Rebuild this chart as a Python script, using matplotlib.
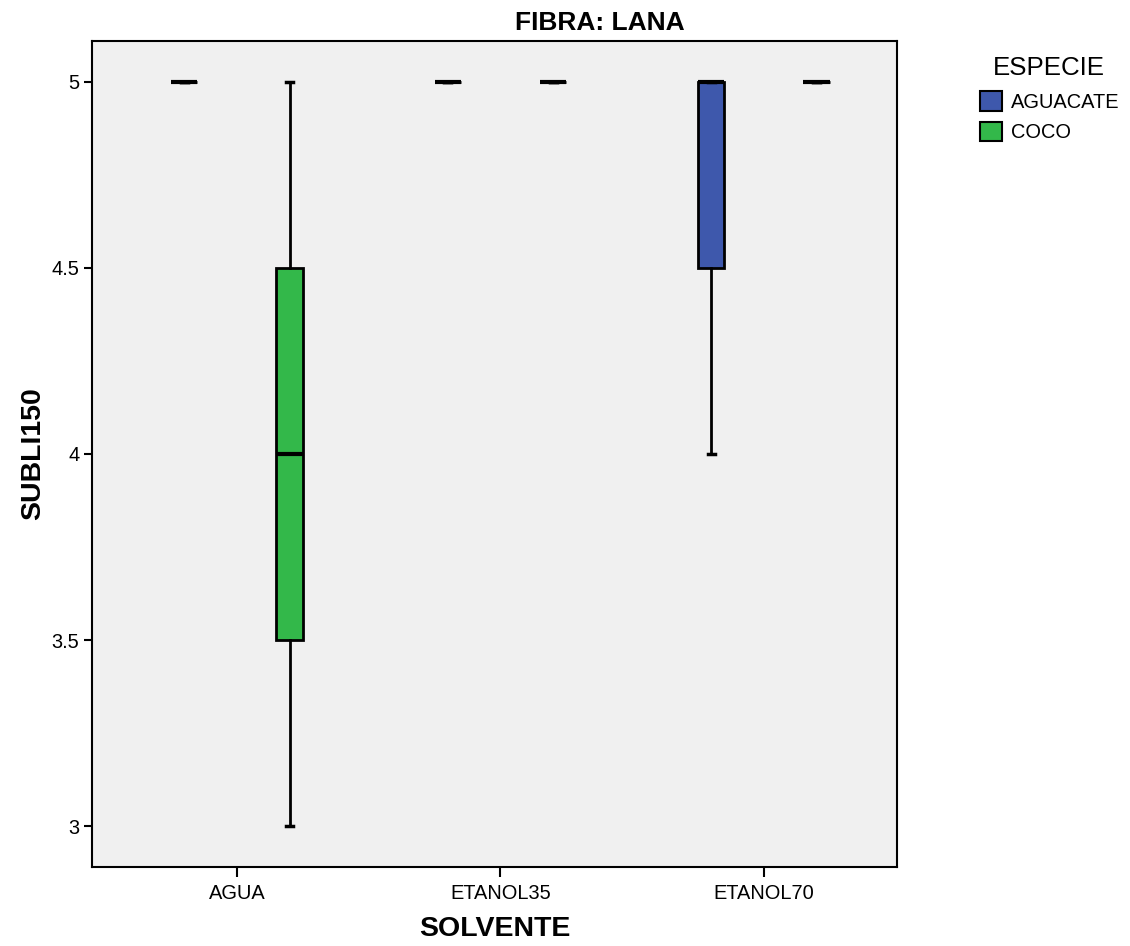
import matplotlib.pyplot as plt
from matplotlib.patches import Patch

plt.rcParams['font.family'] = ['Liberation Sans', 'DejaVu Sans']

solventes = ['AGUA', 'ETANOL35', 'ETANOL70']
especies = ['AGUACATE', 'COCO']
colores = ['#3E58AC', '#33B84A']

# summary stats per (solvente, especie): whislo, q1, med, q3, whishi
aguacate_stats = [
    (5, 5, 5, 5, 5),
    (5, 5, 5, 5, 5),
    (4, 4.5, 5, 5, 5),
]
coco_stats = [
    (3, 3.5, 4, 4.5, 5),
    (5, 5, 5, 5, 5),
    (5, 5, 5, 5, 5),
]

fig = plt.figure(figsize=(11.3, 9.46), dpi=100)
ax = fig.add_axes([0.0814, 0.0835, 0.7124, 0.8732])
ax.set_facecolor('#F0F0F0')

offsets = [-0.2, 0.2]
for k, stats in enumerate([aguacate_stats, coco_stats]):
    bstats = []
    for lo, q1, med, q3, hi in stats:
        bstats.append({'whislo': lo, 'q1': q1, 'med': med, 'q3': q3,
                       'whishi': hi, 'fliers': []})
    pos = [i + offsets[k] for i in range(len(solventes))]
    ax.bxp(bstats, positions=pos, widths=0.1, patch_artist=True,
           showfliers=False, capwidths=0.027,
           boxprops=dict(facecolor=colores[k], edgecolor='black', linewidth=2),
           medianprops=dict(color='black', linewidth=3, solid_capstyle='butt'),
           whiskerprops=dict(color='black', linewidth=2),
           capprops=dict(color='black', linewidth=2.5))

ax.set_xlim(-0.55, 2.505)
ax.set_ylim(2.89, 5.11)
ax.set_xticks(range(len(solventes)))
ax.set_xticklabels(solventes)
ax.set_yticks([3, 3.5, 4, 4.5, 5])
ax.set_yticklabels(['3', '3.5', '4', '4.5', '5'])
ax.tick_params(axis='y', length=6, width=1.5, labelsize=14.4, pad=3)
ax.tick_params(axis='x', length=7.5, width=1.5, labelsize=14.4, pad=5)
for s in ax.spines.values():
    s.set_linewidth(1.5)

ax.set_xlabel('SOLVENTE', fontsize=20.5, fontweight='bold', labelpad=9)
ax.set_ylabel('SUBLI150', fontsize=20.5, fontweight='bold', labelpad=4)
fig.text(600 / 1130, 1 - 23 / 946, 'FIBRA: LANA', fontsize=19,
         fontweight='bold', ha='center', va='center')

handles = [Patch(facecolor=c, edgecolor='black', linewidth=1.5) for c in colores]
leg = fig.legend(handles, especies, title='ESPECIE', loc='upper left',
                 bbox_to_anchor=(0.858, 0.951), frameon=False, fontsize=14.4,
                 title_fontsize=18.6, handlelength=1.1, handleheight=1.1,
                 handletextpad=0.45, labelspacing=0.5, borderpad=0)
leg._legend_box.align = 'center'
leg._legend_box.sep = 8

fig.savefig('out.png', dpi=100)
